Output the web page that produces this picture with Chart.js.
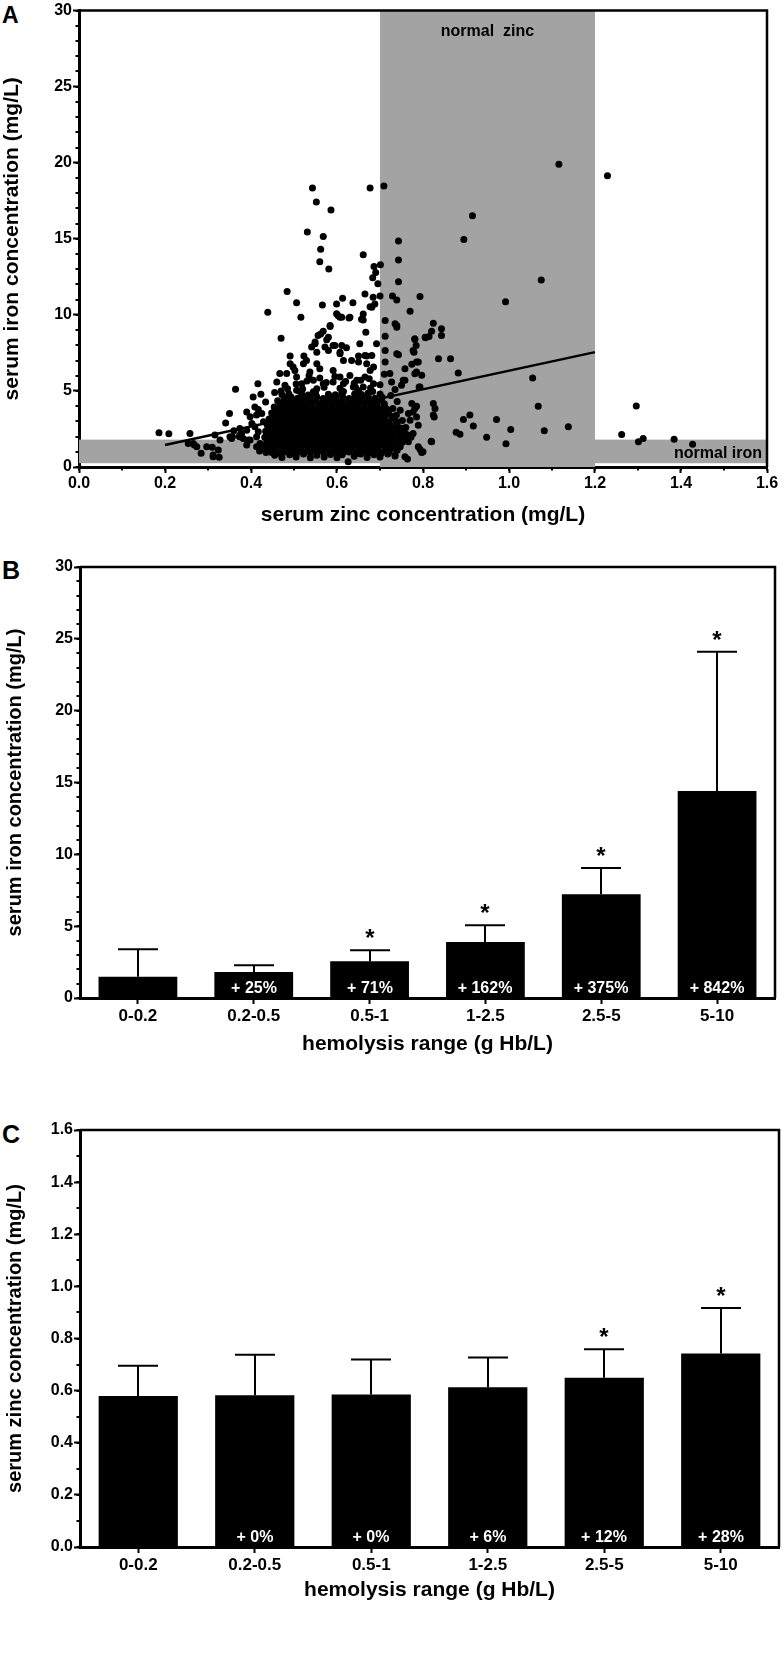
<!DOCTYPE html>
<html><head><meta charset="utf-8">
<script src="https://cdn.jsdelivr.net/npm/chart.js@4.4.0/dist/chart.umd.min.js"></script>
<style>
html,body{margin:0;padding:0;background:#fff;}
body{width:782px;height:1663px;position:relative;overflow:hidden;font-family:"Liberation Sans",Arial,Helvetica,sans-serif;}
.panel{position:absolute;left:0;}
.lbl{position:absolute;left:2px;font-weight:bold;line-height:1;color:#000;}
</style></head><body>
<div class="lbl" style="top:4px;font-size:23px">A</div>
<div class="lbl" style="top:558px;font-size:25px">B</div>
<div class="lbl" style="top:1122px;font-size:25px">C</div>
<div class="panel" style="top:0"><canvas id="cA" width="782" height="540"></canvas></div>
<div class="panel" style="top:540px"><canvas id="cB" width="782" height="530"></canvas></div>
<div class="panel" style="top:1070px"><canvas id="cC" width="782" height="560"></canvas></div>
<script>
// ---------------- DATA ----------------
// Panel A: serum zinc (x, mg/L) vs serum iron (y, mg/L)
const zincIronPoints = [
[0.186,2.25],[0.209,2.18],[0.258,2.20],[0.254,1.55],[0.268,1.44],[0.284,0.90],[0.297,1.33],[0.310,1.29],[0.312,0.67],[0.324,1.11],[0.326,0.64],[0.328,1.77],[0.316,2.10],[0.312,0.79],[0.266,1.55],[0.274,1.33],
[0.364,5.11],[0.350,3.51],[0.341,2.90],[0.357,1.99],[0.374,2.10],[0.360,2.38],[0.390,1.44],[0.394,1.77],[0.351,1.99],[0.355,1.88],[0.373,1.99],[0.382,1.88],
[0.405,4.60],[0.423,4.78],[0.416,5.48],[0.390,3.62],[0.409,3.95],[0.417,3.78],[0.434,4.28],[0.398,3.30],[0.413,3.41],[0.425,3.51],
[0.374,2.53],[0.378,2.20],[0.390,2.42],[0.402,2.86],[0.409,2.64],[0.417,2.31],[0.429,2.97],
[0.398,1.77],[0.413,1.99],[0.421,1.55],[0.437,1.77],[0.413,1.33],[0.429,1.33],[0.444,1.33],[0.420,1.05],[0.435,0.95],
[0.439,10.17],[0.470,8.46],[0.484,11.53],[0.506,10.80],[0.516,9.84],
[0.460,5.59],[0.479,5.37],[0.491,6.79],[0.467,6.14],[0.483,6.14],[0.502,6.35],[0.506,5.04],[0.498,4.39],[0.455,4.90],[0.470,5.00],
[0.543,18.34],[0.552,17.42],[0.586,16.90],[0.677,18.34],[0.709,18.47],[0.531,15.45],[0.568,15.15],[0.562,14.32],[0.743,14.85],[0.661,13.95],
[0.560,13.49],[0.581,13.01],[0.686,13.18],[0.701,13.29],[0.690,12.79],[0.683,12.44],[0.743,13.60],[0.695,12.05],[0.743,12.18],
[0.665,11.37],[0.700,11.24],[0.729,11.24],[0.739,10.98],[0.793,11.20],[0.566,10.65],[0.599,10.72],[0.613,11.09],[0.637,10.79],[0.677,10.54],[0.688,10.72],[0.770,10.24],
[1.116,19.90],[1.229,19.14],[0.915,16.52],[0.895,14.95],[1.075,12.30],[0.992,10.87],
[0.599,10.07],[0.607,9.84],[0.628,9.80],[0.584,9.30],[0.661,9.67],[0.667,8.86],[0.681,10.50],[0.684,11.15],
[0.712,9.63],[0.735,9.41],[0.739,9.19],[0.824,9.45],[0.820,8.93],[0.843,9.08],[0.843,8.64],[0.806,8.49],[0.814,8.58],[0.781,8.38],[0.784,7.99],[0.712,8.60],
[0.580,8.53],[0.562,8.75],[0.549,8.21],[0.553,7.55],[0.541,7.88],[0.595,7.99],[0.607,7.55],[0.622,7.84],
[0.603,9.95],[0.611,9.84],[0.630,9.84],[0.657,9.72],[0.661,10.06],[0.584,9.23],[0.568,8.93],[0.556,8.64],[0.549,8.10],
[0.576,8.36],[0.572,7.88],[0.580,7.66],[0.591,7.99],[0.611,7.99],[0.607,7.44],[0.615,7.00],[0.634,7.00],[0.650,6.90],[0.665,7.33],[0.681,7.33],
[0.685,6.57],[0.677,6.35],[0.665,5.91],[0.669,6.79],[0.653,8.10],[0.692,8.10],
[0.522,6.79],[0.529,7.00],[0.553,6.79],[0.498,6.57],[0.537,6.24],[0.560,6.46],[0.591,6.35],[0.607,5.91],[0.630,6.02],[0.646,5.70],
[0.506,5.91],[0.518,5.48],[0.545,5.70],[0.568,5.48],[0.591,5.59],[0.615,5.48],[0.638,5.26],[0.661,5.26],[0.685,5.48],
[0.491,7.30],[0.523,7.30],[0.650,7.30],[0.669,7.30],
[0.739,9.30],[0.781,8.43],[0.779,7.55],[0.805,8.53],[0.836,7.12],[0.864,7.12],[0.789,6.90],[0.758,6.46],[0.754,5.70],[0.739,7.44],
[0.712,7.66],[0.712,6.90],[0.723,6.14],[0.727,5.59],[0.785,6.24],[0.793,5.26],[0.735,5.09],[0.774,6.75],[0.785,6.90],[0.797,6.03],[0.781,6.13],[0.882,6.18],[0.743,7.38],[0.777,7.66],
[0.747,3.73],[0.766,3.51],[0.770,3.08],[0.781,3.84],[0.785,3.29],[0.789,2.75],[0.824,4.17],[0.828,3.84],[0.826,3.29],[0.824,3.41],
[0.747,2.42],[0.758,2.20],[0.777,2.20],[0.766,1.66],[0.789,1.33],[0.800,1.00],[0.820,1.66],[0.819,1.70],[0.758,0.67],[0.735,0.79],
[0.715,1.88],[0.723,2.64],[0.712,1.33],[0.747,1.33],[0.774,4.17],[0.785,3.99],[0.777,3.62],[0.791,5.26],[0.758,5.70],[0.750,5.37],
[0.797,0.96],[0.793,1.16],[0.764,0.52],[0.735,0.72],[0.719,1.11],
[0.909,3.41],[0.894,3.12],[0.917,2.69],[0.971,3.12],[1.138,2.64],[1.004,2.47],[1.082,2.38],[0.877,2.29],[0.886,2.16],[0.948,1.96],[0.993,1.53],
[1.055,5.85],[1.068,3.99],[1.296,4.01],[1.262,2.14],[1.301,1.66],[1.312,1.88],[1.384,1.83],[1.427,1.49],
[0.455,0.78],[0.472,0.62],[0.490,0.80],[0.505,0.66],[0.522,0.85],[0.538,0.60],[0.553,0.78],[0.570,0.66],[0.585,0.82],[0.600,0.60],[0.612,0.80],[0.626,0.35],[0.640,0.70],[0.655,0.86],[0.670,0.62],[0.686,0.80],[0.700,0.65],[0.718,0.85],
[0.448,0.95],[0.463,0.90],[0.478,0.98],[0.493,0.92],[0.508,0.97],[0.523,0.90],[0.538,0.96],[0.553,0.92],[0.568,0.98],[0.583,0.90],[0.598,0.96],[0.613,0.92],[0.628,0.98],[0.643,0.90],[0.658,0.95],[0.673,0.92],[0.688,0.98],[0.703,0.90],[0.720,0.96],
[0.440,1.10],[0.456,1.22],[0.470,1.05],[0.486,1.18],[0.500,1.12],[0.516,1.25],[0.530,1.05],[0.545,1.20],[0.560,1.10],[0.575,1.24],[0.590,1.08],[0.605,1.18],[0.620,1.12],[0.635,1.26],[0.650,1.06],[0.665,1.20],[0.680,1.12],[0.695,1.22],[0.710,1.05],[0.725,1.18],[0.740,1.10],
[0.443,1.35],[0.458,1.40],[0.473,1.32],[0.488,1.38],[0.503,1.34],[0.518,1.42],[0.533,1.30],[0.548,1.37],[0.563,1.35],[0.578,1.41],[0.593,1.31],[0.608,1.38],[0.623,1.34],[0.638,1.40],[0.653,1.32],[0.668,1.38],[0.683,1.35],[0.698,1.41],[0.713,1.32],[0.728,1.38],[0.745,1.35],
[0.436,1.55],[0.450,1.62],[0.465,1.50],[0.480,1.58],[0.495,1.52],[0.510,1.64],[0.524,1.50],[0.540,1.60],[0.555,1.54],[0.570,1.62],[0.585,1.48],[0.600,1.58],[0.615,1.55],[0.630,1.63],[0.645,1.50],[0.660,1.60],[0.675,1.54],[0.690,1.62],[0.705,1.50],[0.720,1.58],[0.735,1.52],[0.752,1.62],
[0.440,1.75],[0.455,1.80],[0.470,1.72],[0.485,1.78],[0.500,1.74],[0.515,1.82],[0.530,1.70],[0.545,1.77],[0.560,1.75],[0.575,1.81],[0.590,1.71],[0.605,1.78],[0.620,1.74],[0.635,1.80],[0.650,1.72],[0.665,1.78],[0.680,1.75],[0.695,1.81],[0.710,1.72],[0.725,1.78],[0.742,1.75],[0.762,1.80],
[0.432,1.95],[0.447,2.02],[0.462,1.92],[0.477,2.00],[0.492,1.94],[0.507,2.04],[0.522,1.90],[0.537,1.98],[0.552,1.95],[0.567,2.05],[0.582,1.92],[0.597,2.00],[0.612,1.96],[0.627,2.04],[0.642,1.92],[0.657,2.00],[0.672,1.95],[0.687,2.03],[0.702,1.92],[0.717,2.00],[0.732,1.96],[0.750,2.04],[0.772,1.95],
[0.441,2.15],[0.456,2.20],[0.471,2.12],[0.486,2.18],[0.501,2.14],[0.516,2.22],[0.531,2.10],[0.546,2.17],[0.561,2.15],[0.576,2.21],[0.591,2.11],[0.606,2.18],[0.621,2.14],[0.636,2.20],[0.651,2.12],[0.666,2.18],[0.681,2.15],[0.696,2.21],[0.711,2.12],[0.727,2.18],[0.745,2.15],[0.765,2.10],
[0.434,2.35],[0.449,2.42],[0.464,2.32],[0.479,2.40],[0.494,2.34],[0.509,2.44],[0.524,2.30],[0.539,2.38],[0.554,2.35],[0.569,2.45],[0.584,2.32],[0.599,2.40],[0.614,2.36],[0.629,2.44],[0.644,2.30],[0.659,2.40],[0.674,2.35],[0.689,2.43],[0.704,2.32],[0.719,2.40],[0.736,2.36],[0.755,2.42],
[0.445,2.55],[0.460,2.60],[0.475,2.52],[0.490,2.58],[0.505,2.54],[0.520,2.62],[0.535,2.50],[0.550,2.57],[0.565,2.55],[0.580,2.61],[0.595,2.51],[0.610,2.58],[0.625,2.54],[0.640,2.60],[0.655,2.52],[0.670,2.58],[0.685,2.55],[0.700,2.61],[0.715,2.52],[0.732,2.58],[0.750,2.55],
[0.438,2.75],[0.453,2.82],[0.468,2.72],[0.483,2.80],[0.498,2.74],[0.513,2.84],[0.528,2.70],[0.543,2.78],[0.558,2.75],[0.573,2.85],[0.588,2.72],[0.603,2.80],[0.618,2.76],[0.633,2.84],[0.648,2.70],[0.663,2.80],[0.678,2.75],[0.693,2.83],[0.708,2.72],[0.723,2.80],[0.740,2.76],[0.760,2.60],
[0.450,2.95],[0.465,3.00],[0.480,2.92],[0.495,2.98],[0.510,2.94],[0.525,3.02],[0.540,2.90],[0.555,2.97],[0.570,2.95],[0.585,3.01],[0.600,2.91],[0.615,2.98],[0.630,2.94],[0.645,3.00],[0.660,2.92],[0.675,2.98],[0.690,2.95],[0.705,3.01],[0.720,2.92],[0.738,2.98],
[0.442,3.15],[0.457,3.22],[0.472,3.12],[0.487,3.20],[0.502,3.14],[0.517,3.24],[0.532,3.10],[0.547,3.18],[0.562,3.15],[0.577,3.25],[0.592,3.12],[0.607,3.20],[0.622,3.16],[0.637,3.24],[0.652,3.10],[0.667,3.20],[0.682,3.15],[0.697,3.23],[0.712,3.12],[0.728,3.20],[0.752,3.05],
[0.455,3.35],[0.470,3.40],[0.485,3.32],[0.500,3.38],[0.515,3.34],[0.530,3.42],[0.545,3.30],[0.560,3.37],[0.575,3.35],[0.590,3.41],[0.605,3.31],[0.620,3.38],[0.635,3.34],[0.650,3.40],[0.665,3.32],[0.680,3.38],[0.695,3.35],[0.710,3.41],[0.728,3.32],
[0.448,3.55],[0.463,3.62],[0.478,3.52],[0.493,3.60],[0.508,3.54],[0.523,3.64],[0.538,3.50],[0.553,3.58],[0.568,3.55],[0.583,3.65],[0.598,3.52],[0.613,3.60],[0.628,3.56],[0.643,3.64],[0.658,3.50],[0.673,3.60],[0.688,3.55],[0.703,3.63],[0.720,3.52],[0.738,3.40],
[0.460,3.75],[0.475,3.80],[0.490,3.72],[0.505,3.78],[0.520,3.74],[0.535,3.82],[0.550,3.70],[0.565,3.77],[0.580,3.75],[0.595,3.81],[0.610,3.71],[0.625,3.78],[0.640,3.74],[0.655,3.80],[0.670,3.72],[0.685,3.78],[0.700,3.75],[0.716,3.80],
[0.454,3.95],[0.469,4.02],[0.484,3.92],[0.499,4.00],[0.514,3.94],[0.529,4.04],[0.544,3.90],[0.559,3.98],[0.574,3.95],[0.589,4.05],[0.604,3.92],[0.619,4.00],[0.634,3.96],[0.649,4.04],[0.664,3.90],[0.679,4.00],[0.694,3.95],[0.710,4.03],[0.730,3.85],
[0.468,4.15],[0.483,4.20],[0.498,4.12],[0.513,4.18],[0.528,4.14],[0.543,4.22],[0.558,4.10],[0.573,4.17],[0.588,4.15],[0.603,4.21],[0.618,4.11],[0.633,4.18],[0.648,4.14],[0.663,4.20],[0.678,4.12],[0.693,4.18],[0.710,4.15],
[0.462,4.35],[0.477,4.42],[0.492,4.32],[0.507,4.40],[0.522,4.34],[0.537,4.44],[0.552,4.30],[0.567,4.38],[0.582,4.35],[0.597,4.45],[0.612,4.32],[0.627,4.40],[0.642,4.36],[0.657,4.44],[0.672,4.30],[0.687,4.40],[0.703,4.35],[0.740,4.30],
[0.478,4.55],[0.493,4.60],[0.508,4.52],[0.523,4.58],[0.538,4.54],[0.553,4.62],[0.568,4.50],[0.583,4.57],[0.598,4.55],[0.613,4.61],[0.628,4.51],[0.643,4.58],[0.658,4.54],[0.673,4.60],[0.688,4.52],[0.705,4.58],
[0.472,4.75],[0.488,4.82],[0.518,4.80],[0.533,4.74],[0.550,4.84],[0.580,4.78],[0.596,4.75],[0.611,4.85],[0.641,4.80],[0.657,4.76],[0.672,4.84],[0.700,4.80],[0.725,4.70],
[0.512,5.00],[0.545,4.95],[0.615,4.96],[0.650,5.02],[0.683,4.97],
[0.485,5.15],[0.520,5.12],[0.553,5.14],[0.570,5.24],[0.607,5.18],[0.643,5.25],[0.678,5.20],
[0.505,5.45],[0.560,5.85],[0.595,5.95],[0.640,5.50],[0.675,5.80],[0.535,6.00],
[0.530,5.65],[0.575,5.55],[0.620,5.62],[0.655,5.70],[0.700,5.40],[0.710,6.10]
];
const regressionX = [0.2, 1.2];
const regressionY = [1.45, 7.55];
const zincNormalRange = [0.7, 1.2];
const ironNormalRange = [0.25, 1.8];
const xTicksA = [0, 0.2, 0.4, 0.6, 0.8, 1.0, 1.2, 1.4, 1.6];

// Panels B and C: hemolysis categories
const hemolysisRanges = ['0-0.2', '0.2-0.5', '0.5-1', '1-2.5', '2.5-5', '5-10'];
const ironMean = [1.48, 1.81, 2.55, 3.90, 7.22, 14.40];
const ironSD   = [1.91, 0.47, 0.77, 1.16, 1.83, 9.70];
const ironPct  = ['', '+ 25%', '+ 71%', '+ 162%', '+ 375%', '+ 842%'];
const ironSig  = [false, false, true, true, true, true];
const zincMean = [0.579, 0.582, 0.585, 0.613, 0.649, 0.742];
const zincSD   = [0.116, 0.156, 0.134, 0.114, 0.110, 0.175];
const zincPct  = ['', '+ 0%', '+ 0%', '+ 6%', '+ 12%', '+ 28%'];
const zincSig  = [false, false, false, false, true, true];

// ---------------- STYLE / HELPERS ----------------
const FONT = '"Liberation Sans", Arial, Helvetica, sans-serif';
const BAND_GRAY = '#a3a3a3';
const f = (size) => ({family: FONT, size: size, weight: 'bold', lineHeight: 1.2});

const minorTicks = {
  id: 'minorTicks',
  afterDraw(chart, args, o) {
    const ctx = chart.ctx;
    ctx.save();
    ctx.strokeStyle = '#000';
    ctx.lineWidth = 2;
    const ys = chart.scales.y;
    if (o.yStep) {
      const n = Math.round((ys.max - ys.min) / o.yStep);
      for (let i = 0; i <= n; i++) {
        const p = Math.round(ys.getPixelForValue(ys.min + i * o.yStep));
        ctx.beginPath(); ctx.moveTo(ys.right - 3.5, p); ctx.lineTo(ys.right, p); ctx.stroke();
      }
    }
    const xs = chart.scales.x;
    if (o.xStep) {
      const n = Math.round((xs.max - xs.min) / o.xStep);
      for (let i = 0; i <= n; i++) {
        const p = Math.round(xs.getPixelForValue(xs.min + i * o.xStep));
        ctx.beginPath(); ctx.moveTo(p, xs.top); ctx.lineTo(p, xs.top + 3.5); ctx.stroke();
      }
    }
    ctx.restore();
  }
};

const frame = {
  id: 'frame',
  afterDraw(chart) {
    const {ctx, chartArea: a} = chart;
    ctx.save();
    ctx.strokeStyle = '#000';
    ctx.lineWidth = 2.5;
    ctx.beginPath();
    ctx.moveTo(a.left, a.top);
    ctx.lineTo(a.right, a.top);
    ctx.lineTo(a.right, a.bottom);
    ctx.stroke();
    ctx.restore();
  }
};

const bands = {
  id: 'bands',
  beforeDatasetsDraw(chart) {
    const {ctx, chartArea: a, scales: {x, y}} = chart;
    ctx.save();
    ctx.fillStyle = BAND_GRAY;
    const yTop = y.getPixelForValue(ironNormalRange[1]);
    const yBot = y.getPixelForValue(ironNormalRange[0]);
    ctx.fillRect(a.left, yTop, a.right - a.left, yBot - yTop);
    const x0 = x.getPixelForValue(zincNormalRange[0]);
    const x1 = x.getPixelForValue(zincNormalRange[1]);
    ctx.fillRect(x0, a.top, x1 - x0, a.bottom - a.top);
    ctx.fillStyle = '#000';
    ctx.font = 'bold 16px ' + FONT;
    ctx.textBaseline = 'middle';
    ctx.textAlign = 'center';
    ctx.fillText('normal  zinc', (x0 + x1) / 2, a.top + 21);
    ctx.textAlign = 'right';
    ctx.fillText('normal iron', a.right - 5, (yTop + yBot) / 2 + 2);
    ctx.restore();
  }
};

const errorBars = {
  id: 'errorBars',
  afterDatasetsDraw(chart, args, o) {
    const {ctx, chartArea: a, scales: {y}} = chart;
    const meta = chart.getDatasetMeta(0);
    ctx.save();
    ctx.strokeStyle = '#000';
    ctx.lineWidth = 2;
    meta.data.forEach((bar, i) => {
      const top = y.getPixelForValue(o.mean[i] + o.sd[i]);
      const bx = Math.round(bar.x);
      ctx.beginPath();
      ctx.moveTo(bx, bar.y); ctx.lineTo(bx, top);
      ctx.moveTo(bx - 20, top); ctx.lineTo(bx + 20, top);
      ctx.stroke();
      if (o.sig[i]) {
        ctx.fillStyle = '#000';
        ctx.font = 'bold 24px ' + FONT;
        ctx.textAlign = 'center';
        ctx.textBaseline = 'alphabetic';
        ctx.fillText('*', bx, top - 4);
      }
      if (o.pct[i]) {
        ctx.fillStyle = '#fff';
        ctx.font = 'bold 16px ' + FONT;
        ctx.textAlign = 'center';
        ctx.textBaseline = 'middle';
        ctx.fillText(o.pct[i], bx, a.bottom - 9);
      }
    });
    ctx.restore();
  }
};

function axisGrid() {
  return {display: true, drawOnChartArea: false, drawTicks: true, tickLength: 6, tickWidth: 2, tickColor: '#000'};
}
function axisBorder() { return {display: true, color: '#000', width: 3}; }

// ---------------- PANEL A ----------------
new Chart(document.getElementById('cA'), {
  type: 'scatter',
  data: {
    datasets: [
      {
        type: 'line',
        data: regressionX.map((v, i) => ({x: v, y: regressionY[i]})),
        borderColor: '#000', borderWidth: 2.5, pointRadius: 0, fill: false, order: 0
      },
      {
        data: zincIronPoints.map(p => ({x: p[0], y: p[1]})),
        pointRadius: 3.5, pointBackgroundColor: '#000', backgroundColor: '#000', pointBorderWidth: 0, borderWidth: 0, order: 1
      }
    ]
  },
  options: {
    responsive: false, animation: false, devicePixelRatio: 1,
    layout: {padding: {top: 9, right: 15, left: 0, bottom: 0}},
    plugins: {legend: {display: false}, tooltip: {enabled: false}, minorTicks: {xStep: 0.1, yStep: 1}},
    scales: {
      x: {
        type: 'linear', min: 0, max: 1.6,
        afterBuildTicks: s => { s.ticks = xTicksA.map(v => ({value: v})); },
        ticks: {callback: v => Number(v).toFixed(1), font: f(16), color: '#000', padding: 1, maxRotation: 0, autoSkip: false},
        grid: axisGrid(), border: axisBorder(),
        title: {display: true, text: 'serum zinc concentration (mg/L)', font: f(21), color: '#000', padding: {top: 0, bottom: 12}},
        afterFit: s => { s.height = 73; }
      },
      y: {
        type: 'linear', min: 0, max: 30,
        ticks: {stepSize: 5, font: f(16), color: '#000', padding: 1},
        grid: axisGrid(), border: axisBorder(),
        title: {display: true, text: 'serum iron concentration (mg/L)', font: f(21), color: '#000', padding: {top: 0, bottom: 0}},
        afterFit: s => { s.width = 79; }
      }
    }
  },
  plugins: [bands, minorTicks, frame]
});

// ---------------- PANELS B & C ----------------
function barPanel(id, mean, sd, pct, sig, yMax, yStep, yMinor, yTitle, pad, xHeight, titlePadBottom, tickFmt) {
  new Chart(document.getElementById(id), {
    type: 'bar',
    data: {
      labels: hemolysisRanges,
      datasets: [{data: mean, backgroundColor: '#000', borderWidth: 0, barPercentage: 0.68, categoryPercentage: 1.0}]
    },
    options: {
      responsive: false, animation: false, devicePixelRatio: 1,
      layout: {padding: pad},
      plugins: {legend: {display: false}, tooltip: {enabled: false},
        minorTicks: {yStep: yMinor},
        errorBars: {mean: mean, sd: sd, pct: pct, sig: sig}},
      scales: {
        x: {
          type: 'category', offset: true,
          ticks: {font: f(17), color: '#000', padding: 2, maxRotation: 0, autoSkip: false},
          grid: Object.assign(axisGrid(), {offset: false}), border: axisBorder(),
          title: {display: true, text: 'hemolysis range (g Hb/L)', font: f(21), color: '#000', padding: {top: 0, bottom: titlePadBottom}},
          afterFit: s => { s.height = xHeight; }
        },
        y: {
          type: 'linear', min: 0, max: yMax,
          ticks: {stepSize: yStep, font: f(16), color: '#000', padding: 1, callback: tickFmt},
          grid: axisGrid(), border: axisBorder(),
          title: {display: true, text: yTitle, font: f(20), color: '#000', padding: {top: 3, bottom: 0}},
          afterFit: s => { s.width = 80; }
        }
      }
    },
    plugins: [errorBars, minorTicks, frame]
  });
}

barPanel('cB', ironMean, ironSD, ironPct, ironSig, 30, 5, 1, 'serum iron concentration (mg/L)',
  {top: 27, right: 7, left: 0, bottom: 0}, 72, 13, v => String(v));
barPanel('cC', zincMean, zincSD, zincPct, zincSig, 1.6, 0.2, 0.1, 'serum zinc concentration (mg/L)',
  {top: 60, right: 3, left: 0, bottom: 0}, 83, 27, v => Number(v).toFixed(1));
</script>
</body></html>
